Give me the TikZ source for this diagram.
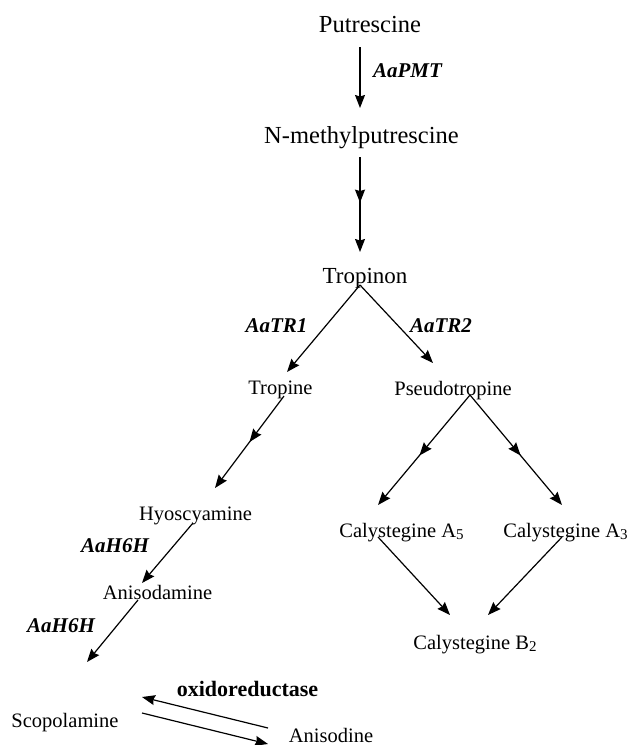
\documentclass[tikz,border=0pt]{standalone}
\usepackage{fontspec}
\setmainfont{Liberation Serif}
\usetikzlibrary{arrows.meta,decorations.markings}
\newcommand{\lowsub}[1]{\raisebox{-0.3ex}{\fontsize{15}{15}\selectfont #1}}
\begin{document}
\begin{tikzpicture}[x=1pt,y=-1pt,
  big/.style={anchor=base,inner sep=0pt,font=\fontsize{24.5}{28}\selectfont},
  cmp/.style={anchor=base,inner sep=0pt,font=\fontsize{20.5}{24}\selectfont},
  enz/.style={anchor=base,inner sep=0pt,font=\fontsize{21}{24}\selectfont\bfseries\itshape},
  tip/.tip={Stealth[length=13pt,width=10pt,inset=1.5pt]},
  arr/.style={line width=1.2pt,-tip},
  midarr/.style={arr,postaction={decorate},decoration={markings,mark=at position #1 with {\arrow{tip}}}}
]
\useasboundingbox (0,0) rectangle (630,745);

% compounds
\node[big] (put) at (370,32) {Putrescine};
\node[big] (nmp) at (361.5,143) {N-methylputrescine};
\node[big,font=\fontsize{23}{27}\selectfont] (tpn) at (365,283) {Tropinon};
\node[cmp] (tro) at (280.5,394) {Tropine};
\node[cmp] (pse) at (453,395) {Pseudotropine};
\node[cmp] (hyo) at (195.5,520) {Hyoscyamine};
\node[cmp] (ani) at (157.5,599) {Anisodamine};
\node[cmp] (ca5) at (401.5,537) {Calystegine A\lowsub{5}};
\node[cmp] (ca3) at (565.5,537) {Calystegine A\lowsub{3}};
\node[cmp] (cb2) at (475,649) {Calystegine B\lowsub{2}};
\node[cmp] (sco) at (65,727) {Scopolamine};
\node[cmp] (aso) at (331,742) {Anisodine};

% enzymes
\node[enz] (e1) at (407.5,77) {AaPMT};
\node[enz] (e2) at (276.5,332) {AaTR1};
\node[enz] (e3) at (441,332) {AaTR2};
\node[enz] (e4) at (115,552) {AaH6H};
\node[enz] (e5) at (61,632) {AaH6H};
\node[anchor=base,inner sep=0pt,font=\fontsize{22}{26}\selectfont\bfseries] (ox) at (247.5,696) {oxidoreductase};

% connector ends
\coordinate (putS) at (360,47);   \coordinate (nmpN) at (360,108);
\coordinate (nmpS) at (360,157);  \coordinate (tpnN) at (360,252);
\coordinate (tpnS) at (360,285);
\coordinate (troN) at (287,372);  \coordinate (pseN) at (433,363);
\coordinate (troS) at (284,396);  \coordinate (hyoN) at (215,488);
\coordinate (pseS) at (470,395);
\coordinate (ca5N) at (378,505);  \coordinate (ca3N) at (562,505);
\coordinate (ca5S) at (378,537);  \coordinate (ca3S) at (562,537);
\coordinate (cb2L) at (450,615);  \coordinate (cb2R) at (488,615);
\coordinate (hyoS) at (193,523);  \coordinate (aniN) at (142,583);
\coordinate (aniS) at (138,600);  \coordinate (scoN) at (87,662);
\coordinate (asoU) at (268,728);  \coordinate (scoU) at (142,697);
\coordinate (scoL) at (142,713);  \coordinate (asoL) at (268,744);

% connectors
\draw[arr] (putS) -- (nmpN);
\draw[midarr=0.48] (nmpS) -- (tpnN);
\draw[arr] (tpnS) -- (troN);
\draw[arr] (tpnS) -- (pseN);
\draw[midarr=0.5] (troS) -- (hyoN);
\draw[midarr=0.55] (pseS) -- (ca5N);
\draw[midarr=0.55] (pseS) -- (ca3N);
\draw[arr] (ca5S) -- (cb2L);
\draw[arr] (ca3S) -- (cb2R);
\draw[arr] (hyoS) -- (aniN);
\draw[arr] (aniS) -- (scoN);
\draw[arr] (asoU) -- (scoU);
\draw[arr] (scoL) -- (asoL);
\end{tikzpicture}
\end{document}
